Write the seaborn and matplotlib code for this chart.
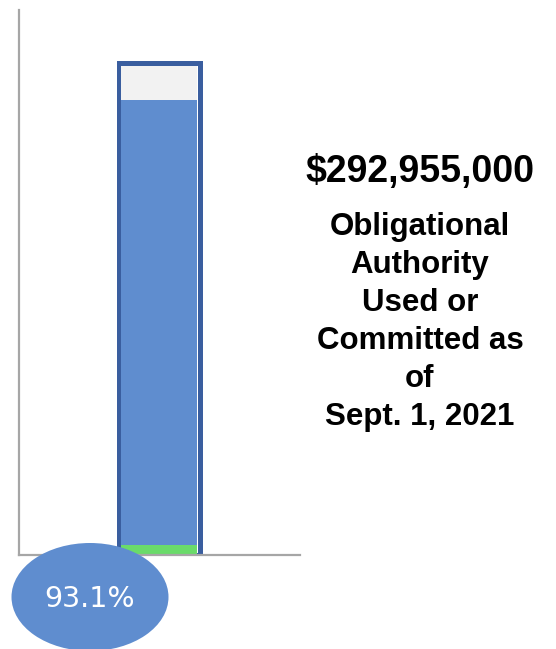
import numpy as np
import pandas as pd
import seaborn as sns
import matplotlib.pyplot as plt
from matplotlib.patches import Ellipse

# values in percent of total obligational authority
category = ["Obligational Authority"]
total_pct = [100.0]
used_pct = [93.1]
green_pct = [2.0]
frame_pct = [100.7]
amount_label = "$292,955,000"
caption_lines = ["Obligational", "Authority", "Used or", "Committed as", "of", "Sept. 1, 2021"]
pct_label = "93.1%"

sns.set_style("white")
plt.rcParams["font.family"] = ["Liberation Sans", "DejaVu Sans"]

fig = plt.figure(figsize=(5.56, 6.49), dpi=100)
ax = fig.add_axes([0.034, 0.145, 0.505, 0.840])

# outer frame of the thermometer
sns.barplot(x=category, y=frame_pct, ax=ax, width=0.577, color="white",
            edgecolor="#3A5E9F", linewidth=3.6, saturation=1)
# empty part, used part, small green part
sns.barplot(x=category, y=total_pct, ax=ax, width=0.541, color="#F2F2F2",
            saturation=1, linewidth=0)
sns.barplot(x=category, y=used_pct, ax=ax, width=0.541, color="#5F8DCF",
            saturation=1, linewidth=0)
sns.barplot(x=category, y=green_pct, ax=ax, width=0.541, color="#6ADB6A",
            saturation=1, linewidth=0)

ax.set_xlim(-1, 1)
ax.set_ylim(0, 111.5)
ax.set_xticks([])
ax.set_yticks([])
ax.set_xlabel("")
ax.set_ylabel("")
for s in ["top", "right"]:
    ax.spines[s].set_visible(False)
for s in ["left", "bottom"]:
    ax.spines[s].set_color("#A6A6A6")
    ax.spines[s].set_linewidth(1.6)

# percentage bubble
ell = Ellipse((90 / 556, 1 - 597 / 649), 157 / 556, 108 / 649,
              transform=fig.transFigure, facecolor="#5F8DCF", edgecolor="none", zorder=5)
fig.add_artist(ell)
fig.text(90 / 556, 1 - 599 / 649, pct_label, color="white", fontsize=20.5,
         family="DejaVu Sans", ha="center", va="center", zorder=6)

# text on the right
fig.text(420 / 556, 1 - 172 / 649, amount_label, fontsize=27, fontweight="bold",
         color="black", ha="center", va="center")
ys = [227, 265, 303, 341, 379, 417]
for line, y in zip(caption_lines, ys):
    fig.text(420 / 556, 1 - y / 649, line, fontsize=22.5, fontweight="bold",
             color="black", ha="center", va="center")

fig.savefig("out.png", dpi=100)
